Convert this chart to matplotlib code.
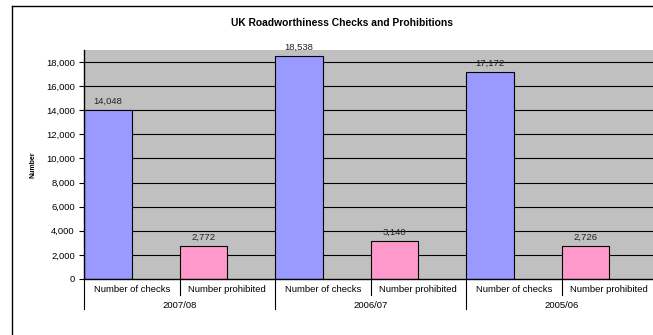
import numpy as np
import matplotlib.pyplot as plt
from matplotlib.lines import Line2D

plt.rcParams['font.family'] = ['Liberation Sans', 'DejaVu Sans']

# figures for each financial year
years = ["2007/08", "2006/07", "2005/06"]
measures = ["Number of checks", "Number prohibited"]
checks = [14048, 18538, 17172]
prohibited = [2772, 3140, 2726]

W, H = 653, 335
fig = plt.figure(figsize=(W / 100, H / 100), dpi=100)

# chart area border (left and top edges only show)
fig.add_artist(Line2D([12 / W, 12 / W], [0, 1 - 6 / H], color="black", lw=1.0))
fig.add_artist(Line2D([12 / W, 1], [1 - 6 / H, 1 - 6 / H], color="black", lw=1.0))

ax = fig.add_axes([84 / W, 56 / H, 573 / W, 229 / H])
ax.set_facecolor("#C0C0C0")

x_checks = np.arange(len(years)) * 2
x_prohib = x_checks + 1

ax.set_ylim(0, 19000)
ax.set_xlim(0, 2 * len(years))

yticks = np.arange(0, 18001, 2000)
for y in yticks[1:]:
    ax.axhline(y, color="black", lw=0.8, zorder=1)

ax.bar(x_checks, checks, width=0.5, align="edge", color="#9999FF",
       edgecolor="black", lw=0.8, zorder=2)
ax.bar(x_prohib, prohibited, width=0.5, align="edge", color="#FF99CC",
       edgecolor="black", lw=0.8, zorder=2)

for xs, vals in [(x_checks, checks), (x_prohib, prohibited)]:
    for xi, v in zip(xs, vals):
        ax.annotate(f"{v:,}", (xi + 0.25, v), xytext=(0, 3), textcoords="offset points",
                    ha="center", va="bottom", fontsize=6.8, color="#222222")

ax.set_yticks(yticks)
ax.set_yticklabels([f"{v:,}" for v in yticks], fontsize=6.8)
ax.tick_params(axis="y", length=3.6, width=0.8, pad=3, direction="out")
ax.set_xticks([])

for side in ["top", "right"]:
    ax.spines[side].set_visible(False)
ax.spines["left"].set_linewidth(1.0)
ax.spines["bottom"].set_linewidth(1.0)

# two-level category axis under the bars
tr = ax.get_xaxis_transform()
ph = 229.0
for i in range(2 * len(years)):
    ax.text(i + 0.5, -10 / ph, measures[i % 2], transform=tr, ha="center", va="center",
            fontsize=6.8)
for g, label in enumerate(years):
    ax.text(2 * g + 1, -26 / ph, label, transform=tr, ha="center", va="center",
            fontsize=6.8)
    ax.add_line(Line2D([2 * g + 1, 2 * g + 1], [0, -16 / ph], transform=tr,
                       color="black", lw=0.8, clip_on=False))
for g in range(len(years) + 1):
    ax.add_line(Line2D([2 * g, 2 * g], [0, -30 / ph], transform=tr,
                       color="black", lw=0.8, clip_on=False))

fig.text(33 / W, 1 - 165 / H, "Number", rotation=90, ha="center", va="center",
         fontsize=5, fontweight="bold")
fig.text(342 / W, 1 - 23 / H, "UK Roadworthiness Checks and Prohibitions",
         ha="center", va="center", fontsize=7.4, fontweight="bold")

fig.savefig("out.png", dpi=100)
